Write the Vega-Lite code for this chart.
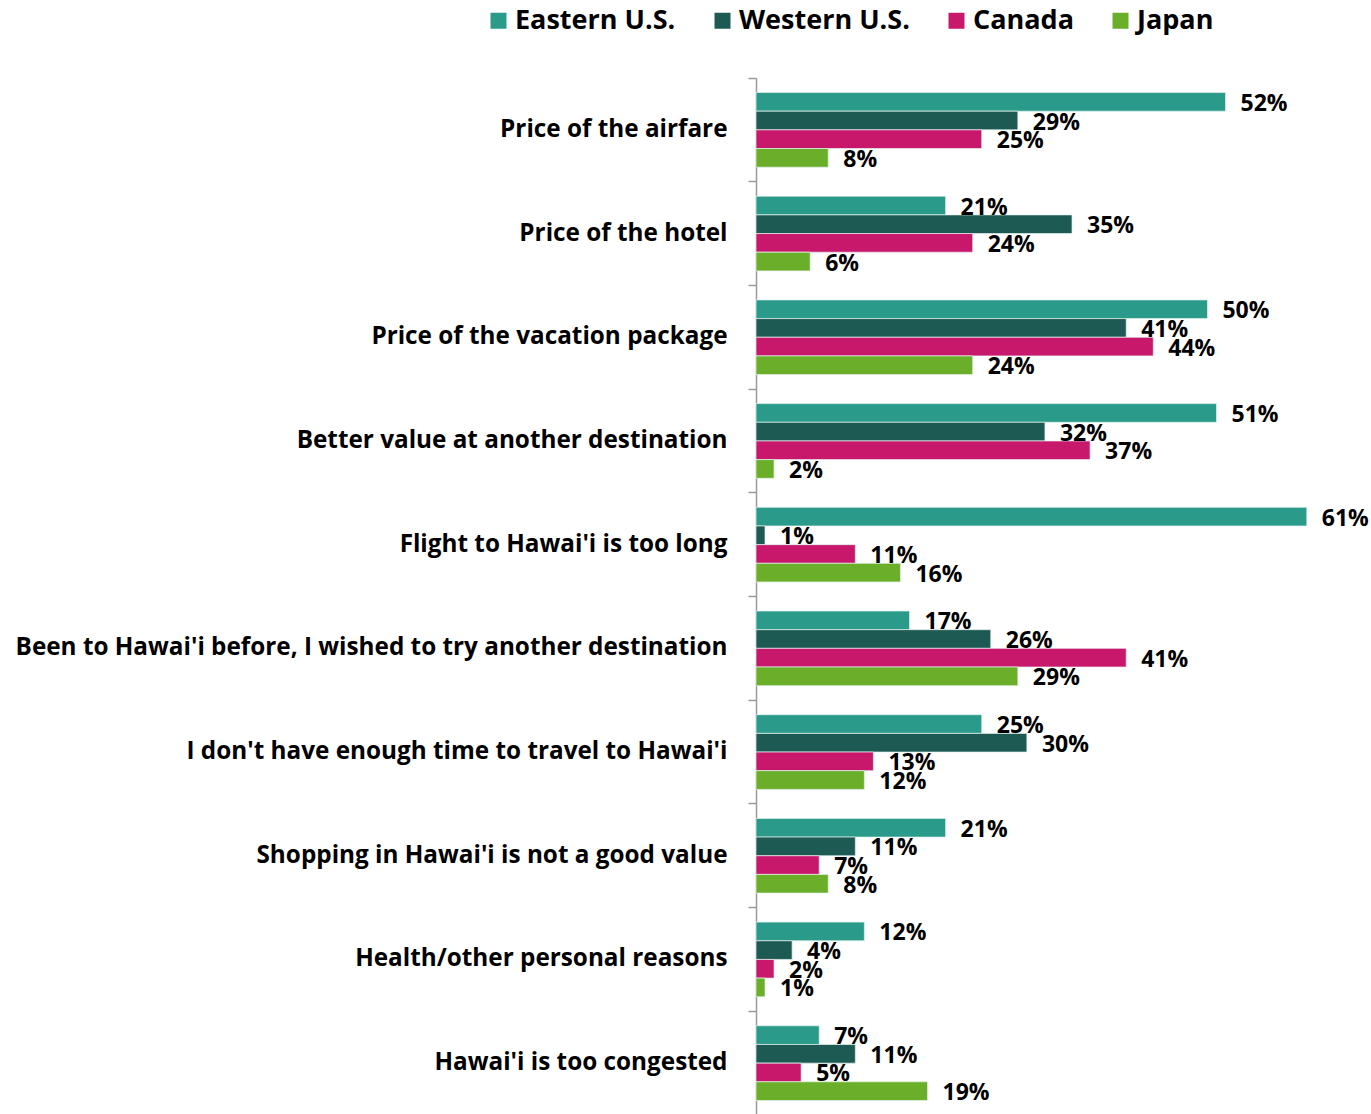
{
  "$schema": "https://vega.github.io/schema/vega-lite/v6.json",
  "autosize": {"type": "none"},
  "width": 614,
  "height": 1037,
  "padding": {"left": 756, "top": 78, "right": 1, "bottom": 0},
  "background": "white",
  "config": {"view": {"stroke": null}},
  "data": {
    "values": [
      {"reason": "Price of the airfare", "market": "Eastern U.S.", "pct": 0.52},
      {"reason": "Price of the airfare", "market": "Western U.S.", "pct": 0.29},
      {"reason": "Price of the airfare", "market": "Canada", "pct": 0.25},
      {"reason": "Price of the airfare", "market": "Japan", "pct": 0.08},
      {"reason": "Price of the hotel", "market": "Eastern U.S.", "pct": 0.21},
      {"reason": "Price of the hotel", "market": "Western U.S.", "pct": 0.35},
      {"reason": "Price of the hotel", "market": "Canada", "pct": 0.24},
      {"reason": "Price of the hotel", "market": "Japan", "pct": 0.06},
      {"reason": "Price of the vacation package", "market": "Eastern U.S.", "pct": 0.50},
      {"reason": "Price of the vacation package", "market": "Western U.S.", "pct": 0.41},
      {"reason": "Price of the vacation package", "market": "Canada", "pct": 0.44},
      {"reason": "Price of the vacation package", "market": "Japan", "pct": 0.24},
      {"reason": "Better value at another destination", "market": "Eastern U.S.", "pct": 0.51},
      {"reason": "Better value at another destination", "market": "Western U.S.", "pct": 0.32},
      {"reason": "Better value at another destination", "market": "Canada", "pct": 0.37},
      {"reason": "Better value at another destination", "market": "Japan", "pct": 0.02},
      {"reason": "Flight to Hawai'i is too long", "market": "Eastern U.S.", "pct": 0.61},
      {"reason": "Flight to Hawai'i is too long", "market": "Western U.S.", "pct": 0.01},
      {"reason": "Flight to Hawai'i is too long", "market": "Canada", "pct": 0.11},
      {"reason": "Flight to Hawai'i is too long", "market": "Japan", "pct": 0.16},
      {"reason": "Been to Hawai'i before, I wished to try another destination", "market": "Eastern U.S.", "pct": 0.17},
      {"reason": "Been to Hawai'i before, I wished to try another destination", "market": "Western U.S.", "pct": 0.26},
      {"reason": "Been to Hawai'i before, I wished to try another destination", "market": "Canada", "pct": 0.41},
      {"reason": "Been to Hawai'i before, I wished to try another destination", "market": "Japan", "pct": 0.29},
      {"reason": "I don't have enough time to travel to Hawai'i", "market": "Eastern U.S.", "pct": 0.25},
      {"reason": "I don't have enough time to travel to Hawai'i", "market": "Western U.S.", "pct": 0.30},
      {"reason": "I don't have enough time to travel to Hawai'i", "market": "Canada", "pct": 0.13},
      {"reason": "I don't have enough time to travel to Hawai'i", "market": "Japan", "pct": 0.12},
      {"reason": "Shopping in Hawai'i is not a good value", "market": "Eastern U.S.", "pct": 0.21},
      {"reason": "Shopping in Hawai'i is not a good value", "market": "Western U.S.", "pct": 0.11},
      {"reason": "Shopping in Hawai'i is not a good value", "market": "Canada", "pct": 0.07},
      {"reason": "Shopping in Hawai'i is not a good value", "market": "Japan", "pct": 0.08},
      {"reason": "Health/other personal reasons", "market": "Eastern U.S.", "pct": 0.12},
      {"reason": "Health/other personal reasons", "market": "Western U.S.", "pct": 0.04},
      {"reason": "Health/other personal reasons", "market": "Canada", "pct": 0.02},
      {"reason": "Health/other personal reasons", "market": "Japan", "pct": 0.01},
      {"reason": "Hawai'i is too congested", "market": "Eastern U.S.", "pct": 0.07},
      {"reason": "Hawai'i is too congested", "market": "Western U.S.", "pct": 0.11},
      {"reason": "Hawai'i is too congested", "market": "Canada", "pct": 0.05},
      {"reason": "Hawai'i is too congested", "market": "Japan", "pct": 0.19}
    ]
  },
  "encoding": {
    "y": {
      "field": "reason", "type": "nominal", "sort": null,
      "scale": {"paddingInner": 0.28, "paddingOuter": 0.14},
      "axis": {
        "title": null,
        "labelFont": "Open Sans", "labelFontSize": 24.3, "labelFontWeight": "bold", "labelColor": "#000000",
        "labelPadding": 21, "labelLimit": 760,
        "domainColor": "#9a9a9a", "domainWidth": 1.5,
        "tickColor": "#9a9a9a", "tickSize": 8, "tickWidth": 1.5, "bandPosition": -0.1944
      }
    },
    "yOffset": {
      "field": "market", "type": "nominal",
      "sort": ["Eastern U.S.", "Western U.S.", "Canada", "Japan"],
      "scale": {"paddingInner": 0, "paddingOuter": 0}
    },
    "x": {
      "field": "pct", "type": "quantitative",
      "scale": {"domain": [0, 0.68]},
      "axis": null
    }
  },
  "layer": [
    {
      "mark": {"type": "bar", "stroke": "#e6f2ee", "strokeWidth": 1, "strokeOpacity": 0.7},
      "encoding": {
        "color": {
          "field": "market", "type": "nominal",
          "sort": ["Eastern U.S.", "Western U.S.", "Canada", "Japan"],
          "scale": {"domain": ["Eastern U.S.", "Western U.S.", "Canada", "Japan"], "range": ["#2a9a8a", "#1d5a53", "#c8186c", "#6aae2a"]},
          "legend": {
            "title": null, "orient": "none", "direction": "horizontal",
            "legendX": -271, "legendY": -71,
            "symbolType": "square", "symbolSize": 256, "symbolStrokeWidth": 0,
            "labelFont": "Open Sans", "labelFontSize": 27, "labelFontWeight": "bold", "labelColor": "#000000",
            "labelLimit": 400,
            "columnPadding": 33, "labelOffset": 3
          }
        }
      }
    },
    {
      "mark": {"type": "text", "align": "left", "baseline": "middle", "dx": 15, "dy": 2, "font": "Open Sans", "fontSize": 23, "fontWeight": "bold", "color": "#000000"},
      "encoding": {
        "text": {"field": "pct", "type": "quantitative", "format": ".0%"}
      }
    }
  ]
}
